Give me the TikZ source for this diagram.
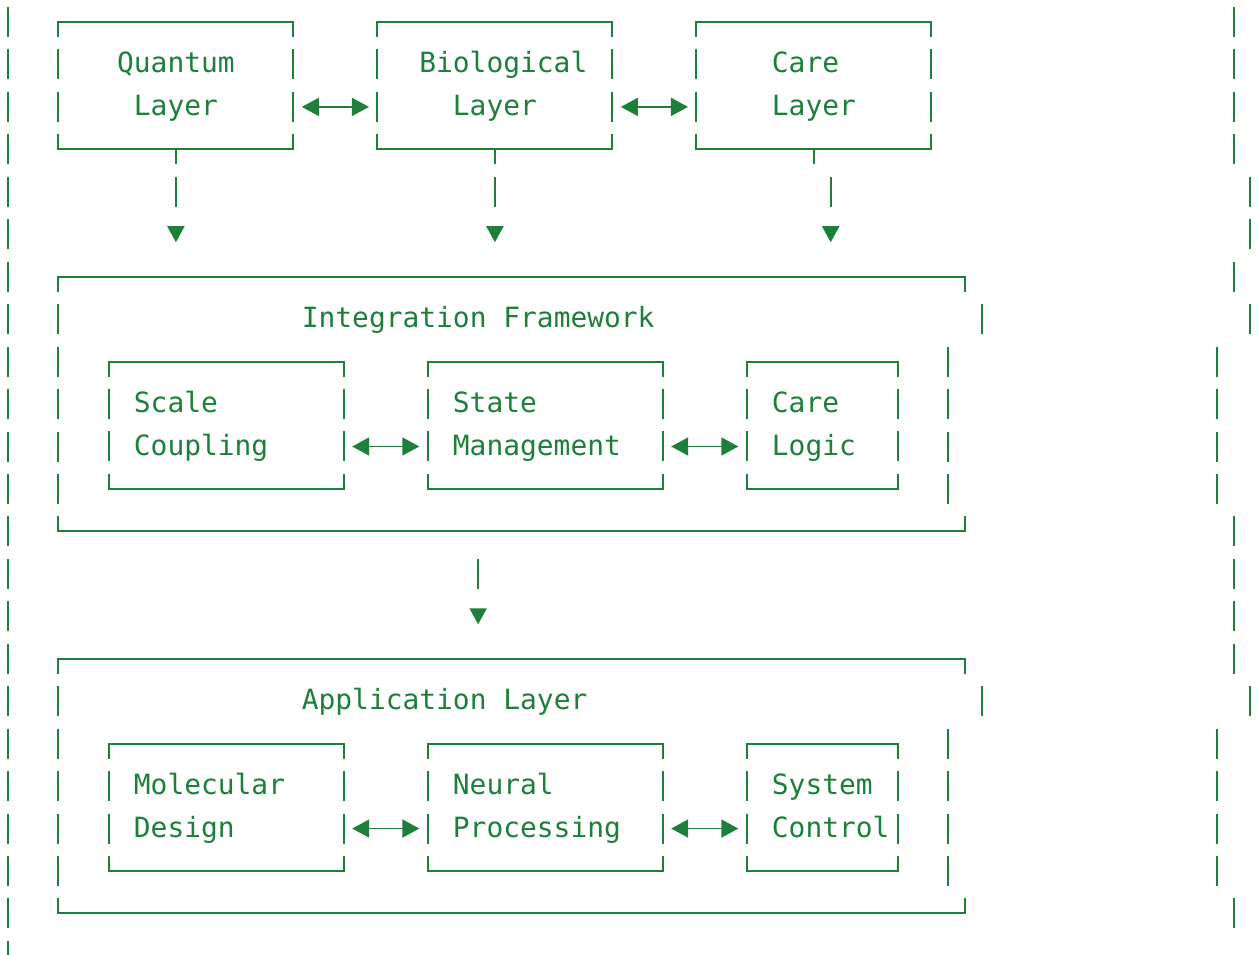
\documentclass[tikz,border=0pt]{standalone}
\usepackage{fontspec}
\setmonofont{DejaVu Sans Mono}
\usetikzlibrary{arrows.meta,fit}
\definecolor{termgreen}{RGB}{28,128,58}

% box on the character grid: name, left col, top row, right col, bottom row
\newcommand{\asciiframe}[5]{%
  \node[fit={(#2,#3) (#4,#5)}, inner sep=0pt, outer sep=0pt] (#1) {};
  \draw[boxline] ([yshift=-7.5pt]#1.north west) -- (#1.north west) -- (#1.north east) -- ([yshift=-7.5pt]#1.north east);
  \draw[boxline] ([yshift=7.5pt]#1.south west) -- (#1.south west) -- (#1.south east) -- ([yshift=7.5pt]#1.south east);
}
\newcommand{\asciibox}[5]{%
  \asciiframe{#1}{#2}{#3}{#4}{#5}
  \draw[boxline, barline] ([yshift=-13.725pt]#1.north west) -- ([yshift=13.725pt]#1.south west);
  \draw[boxline, barline] ([yshift=-13.725pt]#1.north east) -- ([yshift=13.725pt]#1.south east);
}
% column, first row, last row
\newcommand{\vbars}[3]{%
  \draw[boxline, barline] (#1,#2-0.35335) -- (#1,#3+0.35335);
}

\begin{document}
\begin{tikzpicture}[x=8.395pt, y=-21.225pt, color=termgreen,
  boxline/.style={line width=1pt},
  barline/.style={dash pattern=on 15pt off 6.225pt},
  biarrow/.style={line width=0.8pt, arrows={Triangle[length=8.5pt,width=9pt]-Triangle[length=8.5pt,width=9pt]},
    shorten <=4.2pt, shorten >=4.2pt},
  droptee/.style={line width=1pt, dash pattern=on 7.5pt off 6.225pt on 15pt off 40pt,
    arrows={-Triangle[length=8pt,width=8.5pt]}, shorten >=17.225pt},
  dropgap/.style={line width=1pt, dash pattern=on 15pt off 40pt, dash phase=41.275pt,
    arrows={-Triangle[length=8pt,width=8.5pt]}, shorten >=17.225pt},
  cell/.style={font=\ttfamily\fontsize{13.95}{16}\selectfont, anchor=base west,
    inner sep=0pt, outer sep=0pt, yshift=-4.25pt}]
  \useasboundingbox (-0.4765,-0.5183) rectangle (74.39,21.979);

  % outer rails
  \vbars{0}{0}{22}
  \vbars{73}{0}{3}
  \vbars{74}{4}{5}
  \vbars{73}{6}{6}
  \vbars{74}{7}{7}
  \vbars{72}{8}{11}
  \vbars{73}{12}{15}
  \vbars{74}{16}{16}
  \vbars{72}{17}{20}
  \vbars{73}{21}{21}

  % top layers
  \asciibox{quantum}{3}{0}{17}{3}
  \asciibox{bio}{22}{0}{36}{3}
  \asciibox{care}{41}{0}{55}{3}
  \node[cell] (quantum-a) at (6.5,1) {Quantum};
  \node[cell] (quantum-b) at (7.5,2) {Layer};
  \node[cell] (bio-a) at (24.5,1) {Biological};
  \node[cell] (bio-b) at (26.5,2) {Layer};
  \node[cell] (care-a) at (45.5,1) {Care};
  \node[cell] (care-b) at (45.5,2) {Layer};
  \draw[biarrow] ([yshift=-10.6125pt]quantum.east) -- ([yshift=-10.6125pt]bio.west);
  \draw[biarrow] ([yshift=-10.6125pt]bio.east) -- ([yshift=-10.6125pt]care.west);

  % integration framework
  \asciiframe{integ}{3}{6}{57}{12}
  \vbars{3}{7}{11}
  \vbars{58}{7}{7}
  \vbars{56}{8}{11}
  \node[cell] (integ-a) at (17.5,7) {Integration Framework};
  \asciibox{scale}{6}{8}{20}{11}
  \asciibox{state}{25}{8}{39}{11}
  \asciibox{logic}{44}{8}{53}{11}
  \node[cell] (scale-a) at (7.5,9) {Scale};
  \node[cell] (scale-b) at (7.5,10) {Coupling};
  \node[cell] (state-a) at (26.5,9) {State};
  \node[cell] (state-b) at (26.5,10) {Management};
  \node[cell] (logic-a) at (45.5,9) {Care};
  \node[cell] (logic-b) at (45.5,10) {Logic};
  \draw[biarrow] ([yshift=-10.6125pt]scale.east) -- ([yshift=-10.6125pt]state.west);
  \draw[biarrow] ([yshift=-10.6125pt]state.east) -- ([yshift=-10.6125pt]logic.west);

  % layers down into the framework
  \draw[droptee] (quantum.south) -- (quantum.south |- integ.north);
  \draw[droptee] (bio.south) -- (bio.south |- integ.north);
  \draw[boxline] (care.south) -- ++(0,-7.5pt);
  \draw[dropgap] ([xshift=8.395pt]care.south) -- ([xshift=8.395pt]care.south |- integ.north);

  % application layer
  \asciiframe{app}{3}{15}{57}{21}
  \vbars{3}{16}{20}
  \vbars{58}{16}{16}
  \vbars{56}{17}{20}
  \node[cell] (app-a) at (17.5,16) {Application Layer};
  \asciibox{molecular}{6}{17}{20}{20}
  \asciibox{neural}{25}{17}{39}{20}
  \asciibox{system}{44}{17}{53}{20}
  \node[cell] (molecular-a) at (7.5,18) {Molecular};
  \node[cell] (molecular-b) at (7.5,19) {Design};
  \node[cell] (neural-a) at (26.5,18) {Neural};
  \node[cell] (neural-b) at (26.5,19) {Processing};
  \node[cell] (system-a) at (45.5,18) {System};
  \node[cell] (system-b) at (45.5,19) {Control};
  \draw[biarrow] ([yshift=-10.6125pt]molecular.east) -- ([yshift=-10.6125pt]neural.west);
  \draw[biarrow] ([yshift=-10.6125pt]neural.east) -- ([yshift=-10.6125pt]system.west);

  \coordinate (drop) at (28,12);
  \draw[dropgap] (drop) -- (drop |- app.north);
\end{tikzpicture}
\end{document}
